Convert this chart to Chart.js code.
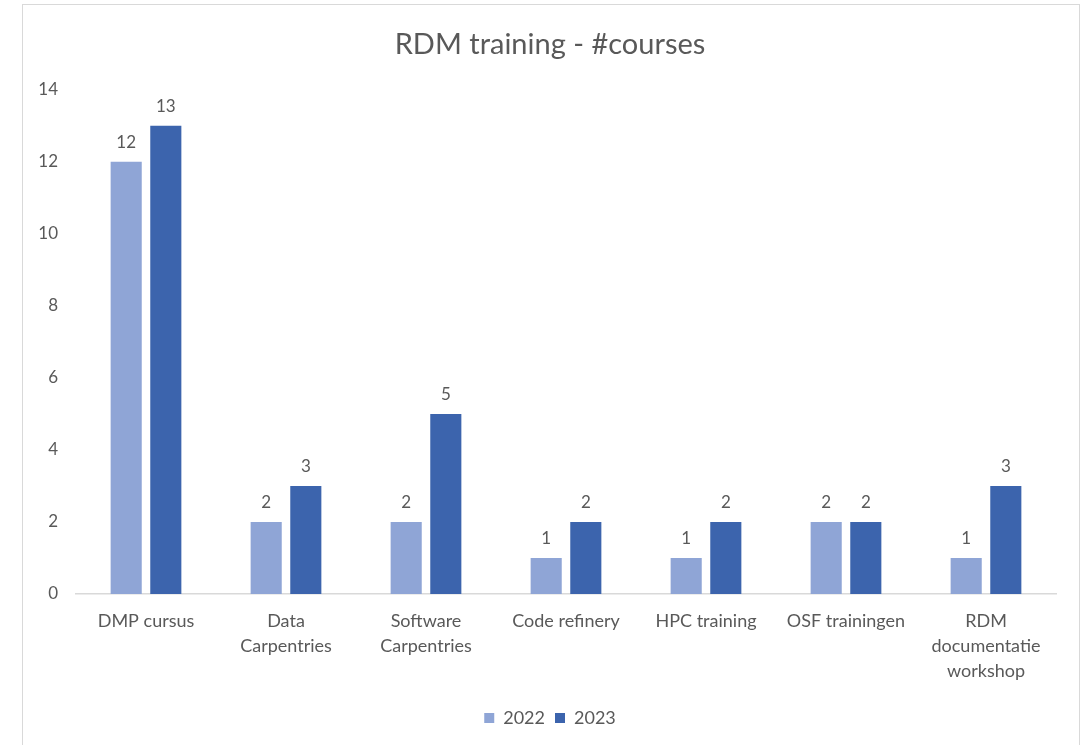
<!DOCTYPE html>
<html>
<head>
<meta charset="utf-8">
<script src="https://cdn.jsdelivr.net/npm/chart.js@4.4.0/dist/chart.umd.min.js"></script>
<style>
  html, body { margin: 0; padding: 0; background: #ffffff; }
  #wrap { position: relative; width: 1089px; height: 745px; overflow: hidden; }
  #frame { position: absolute; left: 22px; top: 4px; width: 1058px; height: 800px; border: 1px solid #d9d9d9; box-sizing: border-box; pointer-events: none; }
  canvas { position: absolute; left: 0; top: 0; }
</style>
</head>
<body>
<div id="wrap">
  <canvas id="c" width="1089" height="745"></canvas>
  <div id="frame"></div>
</div>
<script>
const categories = [
  "DMP cursus",
  ["Data", "Carpentries"],
  ["Software", "Carpentries"],
  "Code refinery",
  "HPC training",
  "OSF trainingen",
  ["RDM", "documentatie", "workshop"]
];
const values2022 = [12, 2, 2, 1, 1, 2, 1];
const values2023 = [13, 3, 5, 2, 2, 2, 3];
const seriesNames = ["2022", "2023"];
const yTicks = [0, 2, 4, 6, 8, 10, 12, 14];

const FONT = "Lato";
const TEXT = "#595959";

const dataLabels = {
  id: "dataLabels",
  afterDatasetsDraw(chart) {
    const ctx = chart.ctx;
    ctx.save();
    ctx.font = "17px " + FONT;
    ctx.fillStyle = TEXT;
    ctx.textAlign = "center";
    ctx.textBaseline = "alphabetic";
    chart.data.datasets.forEach((ds, i) => {
      const meta = chart.getDatasetMeta(i);
      meta.data.forEach((el, j) => {
        ctx.fillText(String(ds.data[j]), el.x, el.y - 14);
      });
    });
    ctx.restore();
  }
};

new Chart(document.getElementById("c"), {
  type: "bar",
  data: {
    labels: categories,
    datasets: [
      { label: seriesNames[0], data: values2022, backgroundColor: "#8fa5d6", borderWidth: 0, yAxisID: "y" },
      { label: seriesNames[1], data: values2023, backgroundColor: "#3c64ad", borderWidth: 0, yAxisID: "y" }
    ]
  },
  options: {
    responsive: false,
    devicePixelRatio: 1,
    animation: false,
    categoryPercentage: 0.566,
    barPercentage: 0.785,
    layout: { padding: { left: 22, right: 11, top: 0, bottom: 8 } },
    plugins: {
      title: {
        display: true,
        text: "RDM training - #courses",
        color: TEXT,
        font: { family: FONT, size: 29, weight: "normal" },
        padding: { top: 27, bottom: 28 }
      },
      legend: {
        display: true,
        position: "bottom",
        labels: {
          color: TEXT,
          font: { family: FONT, size: 18 },
          boxWidth: 10,
          boxHeight: 10,
          padding: 10
        }
      },
      tooltip: { enabled: false }
    },
    scales: {
      x: {
        grid: { display: false, drawTicks: false },
        border: { display: true, color: "#d9d9d9", width: 1.5 },
        ticks: {
          color: TEXT,
          font: { family: FONT, size: 18, lineHeight: 1.389 },
          padding: 15,
          maxRotation: 0,
          autoSkip: false
        },
        afterFit(scale) { scale.height = 105; }
      },
      y: {
        min: 0,
        max: 14,
        position: "left",
        grid: { display: false, drawTicks: false },
        border: { display: false },
        afterBuildTicks(scale) { scale.ticks = yTicks.map(v => ({ value: v })); },
        ticks: {
          color: TEXT,
          font: { family: FONT, size: 17 },
          padding: 18
        },
        afterFit(scale) { scale.width = 54; }
      },
      y2: {
        position: "right",
        min: 0,
        max: 14,
        grid: { display: false, drawTicks: false },
        border: { display: false },
        ticks: { display: false },
        afterFit(scale) { scale.width = 22; }
      }
    }
  },
  plugins: [dataLabels]
});
</script>
</body>
</html>
